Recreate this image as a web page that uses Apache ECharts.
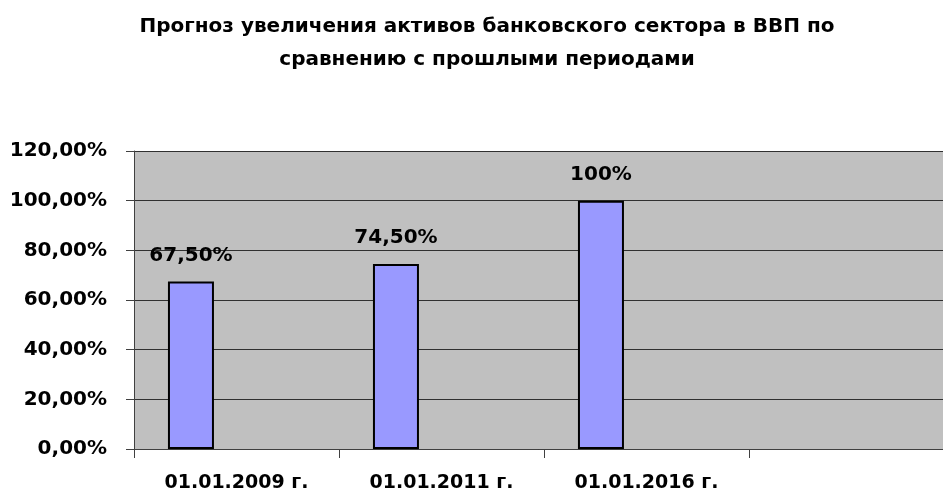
<!DOCTYPE html>
<html>
<head>
<meta charset="utf-8">
<script src="https://cdn.jsdelivr.net/npm/echarts@6/dist/echarts.min.js"></script>
<style>
html,body{margin:0;padding:0;background:#fff;}
#chart{width:943px;height:495px;}
</style>
</head>
<body>
<div id="chart"></div>
<script>
var titleText = 'Прогноз увеличения активов банковского сектора в ВВП по\nсравнению с прошлыми периодами';
var categories = ['01.01.2009 г.', '01.01.2011 г.', '01.01.2016 г.', ''];
var values = [67.5, 74.5, 100, null];
var valueLabels = ['67,50%', '74,50%', '100%', ''];
var yTicks = [0, 20, 40, 60, 80, 100, 120];

var FONT = 'DejaVu Sans';
var chart = echarts.init(document.getElementById('chart'), null, {renderer: 'canvas'});
chart.setOption({
  animation: false,
  backgroundColor: '#ffffff',
  title: {
    text: titleText,
    left: 482,
    textAlign: 'center',
    top: 5,
    textStyle: {fontFamily: FONT, fontWeight: 'bold', fontSize: 20, lineHeight: 33, color: '#000'}
  },
  grid: {
    left: 134, top: 151, right: -11, bottom: 46,
    show: true, backgroundColor: '#C0C0C0', borderWidth: 0,
    containLabel: false, outerBoundsMode: 'none'
  },
  xAxis: {
    type: 'category',
    data: categories,
    boundaryGap: true,
    axisLine: {show: true, lineStyle: {color: '#404040', width: 1}},
    axisTick: {show: true, length: 9, alignWithLabel: false, interval: 0, lineStyle: {color: '#404040'}},
    axisLabel: {interval: 0, margin: 25, fontFamily: FONT, fontWeight: 'bold', fontSize: 19, color: '#000'},
    splitLine: {show: false}
  },
  yAxis: {
    type: 'value',
    min: yTicks[0], max: yTicks[yTicks.length - 1], interval: yTicks[1] - yTicks[0],
    axisLine: {show: true, lineStyle: {color: '#404040', width: 1}},
    axisTick: {show: true, length: 8, lineStyle: {color: '#404040'}},
    axisLabel: {
      margin: 27, fontFamily: FONT, fontWeight: 'bold', fontSize: 20, color: '#000',
      formatter: function (v) { return v.toFixed(2).replace('.', ',') + '%'; }
    },
    splitLine: {show: true, lineStyle: {color: '#303030', width: 1}}
  },
  series: [
    {
      type: 'bar',
      data: values,
      barWidth: 46,
      barGap: '98%',
      itemStyle: {color: '#9999FF', borderColor: '#000', borderWidth: 2},
      label: {
        show: true, position: 'top', distance: 16,
        fontFamily: FONT, fontWeight: 'bold', fontSize: 20, color: '#000',
        formatter: function (p) { return valueLabels[p.dataIndex]; }
      }
    },
    {
      type: 'bar',
      data: values.map(function () { return null; }),
      barWidth: 46,
      barGap: '98%',
      silent: true
    }
  ]
});
</script>
</body>
</html>
